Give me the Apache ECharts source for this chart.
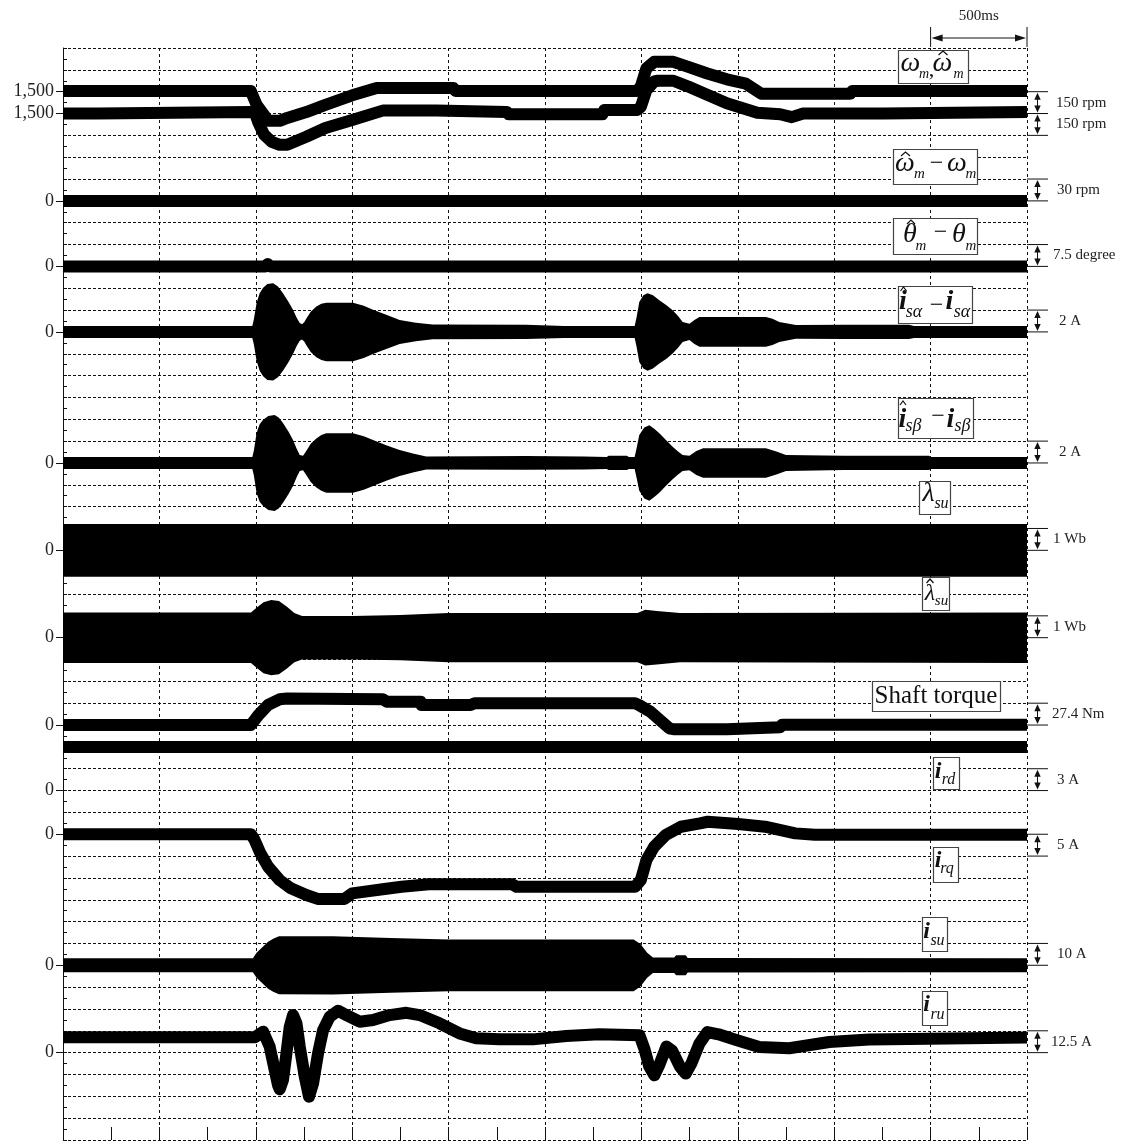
<!DOCTYPE html>
<html><head><meta charset="utf-8">
<script src="https://cdn.jsdelivr.net/npm/echarts@6/dist/echarts.min.js"></script>
<style>html,body{margin:0;padding:0;background:#fff}#c{width:1124px;height:1142px}</style>
</head><body><div id="c"></div><script>
// ---------------- DATA (time in ms, values in physical units) ----------------
const timeMaxMs = 5000;
const timeDivMs = 500;
const tickLabelText = ['1,500','1,500','0','0','0','0','0','0','0','0','0','0','0'];
const scaleLabelText = ['150 rpm','150 rpm','30 rpm','7.5 degree','2 A','2 A','1 Wb','1 Wb','27.4 Nm','3 A','5 A','10 A','12.5 A'];

// speed traces (rpm)
const speedUpper = [[0,1505],[974,1505],[1004,1410],[1043,1340],[1062,1300],[1124,1300],[1163,1320],[1262,1360],[1361,1410],[1500,1475],[1627,1525],[2025,1525],[2036,1505],[2977,1505],[2997,1535],[3026,1660],[3066,1705],[3166,1705],[3243,1670],[3342,1625],[3443,1585],[3542,1555],[3622,1485],[4083,1485],[4093,1505],[5000,1505]];
const speedLower = [[0,1500],[181,1500],[186,1510],[974,1510],[994,1510],[1014,1435],[1043,1355],[1083,1305],[1124,1285],[1163,1285],[1262,1340],[1361,1400],[1500,1455],[1658,1520],[1936,1520],[1946,1510],[2303,1510],[2311,1495],[2798,1495],[2808,1525],[2977,1525],[2997,1545],[3026,1660],[3066,1720],[3086,1725],[3166,1725],[3243,1685],[3344,1627],[3443,1570],[3601,1505],[3720,1495],[3780,1475],[3839,1500],[4259,1500],[4269,1510],[5000,1510]];
// speed estimation error (rpm)
const speedErr = [[0,0],[5000,0]];
// position estimation error (degree)
const thetaErr = [[0,0],[1050,0],[1062,0.8],[1074,0],[5000,0]];
// envelopes (amplitude) of oscillating signals
const isAlphaEnv = [[0,0],[982,0],[990,0.6],[1004,2.1],[1020,3.0],[1038,3.5],[1060,3.85],[1090,3.9],[1115,3.6],[1141,3.0],[1170,2.2],[1193,1.47],[1212,0.75],[1228,0.27],[1240,0.15],[1252,0.35],[1263,0.7],[1285,1.3],[1314,1.77],[1340,2.02],[1366,2.13],[1504,2.13],[1560,1.85],[1608,1.47],[1680,1.0],[1746,0.55],[1830,0.3],[1917,0.12],[2400,0.1],[2600,0],[2965,0],[2975,0.8],[2989,2.2],[3010,2.8],[3032,3.0],[3060,2.8],[3093,2.35],[3130,1.9],[3162,1.43],[3190,0.9],[3214,0.37],[3249,0.2],[3275,0.55],[3301,0.82],[3404,0.82],[3646,0.82],[3680,0.65],[3715,0.37],[3801,0.08],[4052,0.1],[4388,0.1],[4414,0],[5000,0]];
const isBetaEnv = [[0,0],[982,0],[990,0.6],[1004,2.2],[1020,3.0],[1038,3.4],[1065,3.75],[1098,3.85],[1120,3.6],[1141,3.1],[1170,2.3],[1193,1.55],[1212,0.75],[1228,0.18],[1245,0.12],[1260,0.5],[1285,1.2],[1314,1.7],[1340,2.0],[1366,2.17],[1504,2.17],[1560,1.9],[1608,1.55],[1680,1.05],[1746,0.64],[1820,0.3],[1884,0.05],[2400,0.08],[2700,0.05],[2820,0],[2830,0.1],[2925,0.1],[2935,0],[2965,0],[2975,0.8],[2989,2.0],[3015,2.7],[3041,2.9],[3065,2.6],[3093,2.17],[3130,1.5],[3162,0.94],[3190,0.5],[3214,0.18],[3249,0.12],[3285,0.55],[3320,0.8],[3646,0.8],[3700,0.5],[3750,0.18],[4052,0.1],[4492,0.1],[4500,0],[5000,0]];
const lambdaSuEnv = [[0,0.93],[1000,0.93],[2000,0.93],[3000,0.93],[4000,0.93],[5000,0.93]];
const lambdaHatEnv = [[0,0.88],[975,0.88],[1004,1.1],[1040,1.35],[1080,1.45],[1120,1.4],[1160,1.15],[1200,0.85],[1240,0.72],[1500,0.72],[1750,0.76],[2000,0.85],[2980,0.85],[3020,1.0],[3080,0.95],[3200,0.85],[5000,0.88]];
// shaft torque (Nm)
const torque = [[0,0],[974,0],[1014,12.6],[1064,25.2],[1123,32.3],[1163,33.2],[1658,32.4],[1679,29.3],[1855,29.3],[1860,25.2],[2114,25.2],[2135,27.3],[2967,27.3],[2987,25.2],[3047,16.7],[3106,4.2],[3145,-4.1],[3166,-5.3],[3443,-5.3],[3450,-2.8],[3720,-2.8],[3730,0.5],[5000,0.5]];
// rotor currents (A)
const ird = [[0,6],[5000,6]];
const irq = [[0,0],[975,0],[994,-1.33],[1024,-4.37],[1064,-7.44],[1123,-10.48],[1182,-12.38],[1262,-13.92],[1321,-14.8],[1460,-14.8],[1500,-13.53],[1658,-12.61],[1756,-12.02],[1856,-11.63],[1896,-11.47],[2331,-11.47],[2352,-12.02],[2967,-12.02],[2997,-10.48],[3026,-5.9],[3066,-2.86],[3126,-0.18],[3205,1.72],[3304,2.5],[3344,2.86],[3502,2.33],[3641,1.72],[3798,0.2],[3900,-0.1],[5000,-0.1]];
const isuEnv = [[0,0.5],[985,0.5],[1004,3],[1038,5.8],[1064,8],[1090,9.4],[1120,10.5],[1400,10.6],[1700,9.8],[2000,9.1],[2960,9.1],[2995,7],[3030,3],[3060,0.8],[3170,0.8],[3180,1.8],[3230,1.8],[3240,0.6],[5000,0.5]];
const iru = [[0,8.8],[995,8.8],[1038,12.0],[1072,3.4],[1098,-10.0],[1115,-18.5],[1124,-21.0],[1141,-15.7],[1159,-0.4],[1176,14.8],[1193,21.5],[1211,16.8],[1228,3.4],[1254,-13.8],[1276,-25.2],[1297,-17.6],[1323,-0.4],[1349,12.9],[1383,20.5],[1426,24.0],[1470,21.5],[1539,17.7],[1608,18.7],[1694,21.5],[1781,22.8],[1850,21.5],[1953,16.8],[2057,11.0],[2143,8.2],[2264,7.6],[2437,7.6],[2610,9.5],[2782,10.5],[2990,10.0],[3016,2],[3041,-8],[3067,-13],[3093,-7],[3130,3.5],[3160,1],[3200,-8],[3230,-12],[3260,-6],[3300,5],[3342,11.8],[3400,10.5],[3500,7],[3611,3.2],[3767,2.5],[3974,6.1],[4181,7.5],[5000,8.6]];

// ---------------- LAYOUT / STYLE ----------------
const FONT = '"Liberation Serif", "Times New Roman", serif';
const HALF = 6; // half trace thickness in px
const layout = {
  speedUpper:{zero:2, per:150, base:1500},
  speedLower:{zero:3, per:150, base:1500},
  speedErr:{zero:7, per:30},
  thetaErr:{zero:10, per:7.5},
  isAlpha:{zero:13, per:2},
  isBeta:{zero:19, per:2},
  lambdaSu:{zero:23, per:1},
  lambdaHat:{zero:27, per:1},
  torque:{zero:31, per:27.4},
  ird:{zero:34, per:3},
  irq:{zero:36, per:5},
  isu:{zero:42, per:10},
  iru:{zero:46, per:12.5}
};
const tickLabelDiv = [2,3,7,10,13,19,23,27,31,34,36,42,46];
const scaleTopDiv = [2,3,6,9,12,18,22,26,30,33,36,41,45];
const scaleTextX = [1056,1056,1057,1053,1059,1059,1053,1053,1052,1057,1057,1057,1051];

function toDiv(cfg, v){ return cfg.zero - (v - (cfg.base || 0)) / cfg.per; }
function lineSeries(data, cfg){
  return {type:'line', data:data.map(p => [p[0], toDiv(cfg, p[1])]), showSymbol:false, symbol:'none',
    lineStyle:{color:'#000', width:12, join:'round'}, silent:true, animation:false, z:3};
}
function bandSeries(env, cfg){
  return {type:'custom', data:[[0, cfg.zero]], silent:true, animation:false, z:3,
    renderItem:(params, api) => {
      const top = [], bot = [];
      env.forEach(([t, a]) => {
        const p1 = api.coord([t, cfg.zero - a / cfg.per]);
        const p2 = api.coord([t, cfg.zero + a / cfg.per]);
        top.push([p1[0], p1[1] - HALF]);
        bot.push([p2[0], p2[1] + HALF]);
      });
      return {type:'polygon', shape:{points: top.concat(bot.reverse())}, style:{fill:'#000'}};
    }};
}

const labelMap = {};
tickLabelDiv.forEach((d, i) => labelMap[d] = tickLabelText[i]);

const chart = echarts.init(document.getElementById('c'), null, {renderer:'canvas'});
const thin = {color:'#111', width:1};
chart.setOption({
  animation:false,
  backgroundColor:'#fff',
  grid:{left:63, right:97, top:48, bottom:2},
  xAxis:[
    {type:'value', min:0, max:timeMaxMs, interval:timeDivMs, axisLine:{show:false, onZero:false}, axisTick:{show:false}, axisLabel:{show:false},
      splitLine:{show:true, lineStyle:{type:[3,3], color:'#111', width:1}}},
    {type:'value', min:0, max:timeMaxMs, interval:timeDivMs / 2, position:'bottom', axisLine:{show:false, onZero:false},
      axisTick:{show:true, inside:true, length:13, lineStyle:thin}, axisLabel:{show:false}, splitLine:{show:false}}
  ],
  yAxis:[
    {type:'value', min:0, max:50, interval:1, inverse:true, position:'left',
      axisLine:{show:true, onZero:false, lineStyle:thin}, axisTick:{show:false}, axisLabel:{show:false},
      splitLine:{show:true, lineStyle:{type:[3,2], color:'#111', width:1}}},
    {type:'value', min:0, max:50, interval:0.5, inverse:true, position:'left', axisLine:{show:false, onZero:false},
      axisTick:{show:true, inside:true, length:4, lineStyle:thin}, axisLabel:{show:false}, splitLine:{show:false}},
    {type:'value', min:0, max:50, interval:1, inverse:true, position:'left', axisLine:{show:false, onZero:false},
      axisTick:{show:true, customValues:tickLabelDiv, length:7, lineStyle:thin},
      axisLabel:{show:true, customValues:tickLabelDiv, margin:9, color:'#222', fontFamily:FONT, fontSize:18,
        formatter:v => labelMap[Math.round(v)] || ''},
      splitLine:{show:false}}
  ],
  series:[
    lineSeries(speedUpper, layout.speedUpper),
    lineSeries(speedLower, layout.speedLower),
    lineSeries(speedErr, layout.speedErr),
    lineSeries(thetaErr, layout.thetaErr),
    bandSeries(isAlphaEnv, layout.isAlpha),
    bandSeries(isBetaEnv, layout.isBeta),
    bandSeries(lambdaSuEnv, layout.lambdaSu),
    bandSeries(lambdaHatEnv, layout.lambdaHat),
    lineSeries(torque, layout.torque),
    lineSeries(ird, layout.ird),
    lineSeries(irq, layout.irq),
    bandSeries(isuEnv, layout.isu),
    lineSeries(iru, layout.iru)
  ]
});

// ---------------- annotations ----------------
const g = [];
const xEnd = chart.convertToPixel({xAxisIndex:0}, timeMaxMs);
const xPrev = chart.convertToPixel({xAxisIndex:0}, timeMaxMs - timeDivMs);
const blk = {stroke:'#111', lineWidth:1};
// scale arrows
scaleTopDiv.forEach((d, i) => {
  const y1 = chart.convertToPixel({yAxisIndex:0}, d);
  const y2 = chart.convertToPixel({yAxisIndex:0}, d + 1);
  const xa = xEnd + 10.5;
  g.push({type:'line', shape:{x1:xEnd, y1:y1, x2:xEnd + 21, y2:y1}, style:blk, z:50});
  g.push({type:'line', shape:{x1:xEnd, y1:y2, x2:xEnd + 21, y2:y2}, style:blk, z:50});
  g.push({type:'line', shape:{x1:xa, y1:y1 + 5, x2:xa, y2:y2 - 5}, style:blk, z:50});
  g.push({type:'polygon', shape:{points:[[xa, y1 + 1], [xa - 3.2, y1 + 8], [xa + 3.2, y1 + 8]]}, style:{fill:'#111'}, z:50});
  g.push({type:'polygon', shape:{points:[[xa, y2 - 1], [xa - 3.2, y2 - 8], [xa + 3.2, y2 - 8]]}, style:{fill:'#111'}, z:50});
  g.push({type:'text', x:scaleTextX[i], y:(y1 + y2) / 2, style:{text:scaleLabelText[i], font:'15px ' + FONT, fill:'#222', align:'left', verticalAlign:'middle'}, z:50});
});
// 500 ms marker
g.push({type:'line', shape:{x1:xPrev, y1:27, x2:xPrev, y2:47}, style:blk, z:50});
g.push({type:'line', shape:{x1:xEnd, y1:27, x2:xEnd, y2:47}, style:blk, z:50});
g.push({type:'line', shape:{x1:xPrev + 6, y1:38, x2:xEnd - 6, y2:38}, style:blk, z:50});
g.push({type:'polygon', shape:{points:[[xPrev + 1, 38], [xPrev + 12, 34.5], [xPrev + 12, 41.5]]}, style:{fill:'#111'}, z:50});
g.push({type:'polygon', shape:{points:[[xEnd - 1, 38], [xEnd - 12, 34.5], [xEnd - 12, 41.5]]}, style:{fill:'#111'}, z:50});
g.push({type:'text', x:(xPrev + xEnd) / 2, y:16, style:{text:'500ms', font:'15px ' + FONT, fill:'#222', align:'center', verticalAlign:'middle'}, z:50});

// boxed math labels: box [x,y,w,h]; parts [text, cx, cy, size, style]; hats [cx, cy, halfWidth]
const mathLabels = [
  {box:[898,50,70,33], parts:[['ω',910.5,64,28,'i'],['m',924,74,14,'i'],[',',931.5,70,22,''],['ω',942.5,64,28,'i'],['m',958.5,74,14,'i']], hats:[[943,53,4.5]]},
  {box:[893,149,84,35], parts:[['ω',905,164,28,'i'],['m',919.5,174,15,'i'],['−',936.5,164,24,''],['ω',957,164,28,'i'],['m',971,174,15,'i']], hats:[[905.5,154,4.5]]},
  {box:[893,218,84,36], parts:[['θ',910,235,28,'i'],['m',921,246,15,'i'],['−',940.5,233,24,''],['θ',959,235,28,'i'],['m',971,246,15,'i']], hats:[[911,222,4]]},
  {box:[898,286,74,37], parts:[['i',903,302,28,'bi'],['sα',914,312,18,'i'],['−',936.5,306,24,''],['i',949.5,302,28,'bi'],['sα',962,312,18,'i']], hats:[[903.5,289,3]]},
  {box:[898,398,75,40], parts:[['i',902.5,420,28,'bi'],['sβ',913.5,426,18,'i'],['−',938,417,24,''],['i',950.5,420,28,'bi'],['sβ',962.5,426,18,'i']], hats:[[903,403,3]]},
  {box:[919,481,31,33], parts:[['λ',928.5,494,28,'i'],['su',941.5,504,16,'i']], hats:[]},
  {box:[922,577,27,33], parts:[['λ',930,594,24,'i'],['su',941.5,601,15,'i']], hats:[[930,581,3.5]]},
  {box:[872,681,128,30], parts:[['Shaft torque',936,696,25,'']], hats:[]},
  {box:[933,757,26,32], parts:[['i',938,772,24,'bi'],['rd',948.5,780,16,'i']], hats:[]},
  {box:[933,847,25,35], parts:[['i',938,861,24,'bi'],['rq',947,869,16,'i']], hats:[]},
  {box:[922,917,25,34], parts:[['i',926.5,932,24,'bi'],['su',937.5,941,16,'i']], hats:[]},
  {box:[922,991,25,34], parts:[['i',926.5,1005,24,'bi'],['ru',937.5,1015,16,'i']], hats:[]}
];
mathLabels.forEach(L => {
  const [bx, by, bw, bh] = L.box;
  g.push({type:'rect', shape:{x:bx + 0.5, y:by + 0.5, width:bw, height:bh}, style:{fill:'#fff', stroke:'#444', lineWidth:1.2}, z:60});
  L.parts.forEach(([t, cx, cy, s, st]) => {
    const fs = (st.includes('i') ? 'italic ' : '') + (st.includes('b') ? 'bold ' : '');
    g.push({type:'text', x:cx, y:cy, style:{text:t, font:fs + s + 'px ' + FONT, fill:'#111', align:'center', verticalAlign:'middle'}, z:61});
  });
  L.hats.forEach(([cx, cy, hw]) => {
    g.push({type:'polyline', shape:{points:[[cx - hw, cy + 2], [cx, cy - 2], [cx + hw, cy + 2]]}, style:{stroke:'#111', lineWidth:1.2, fill:null}, z:61});
  });
});
chart.setOption({graphic:g});
</script></body></html>
